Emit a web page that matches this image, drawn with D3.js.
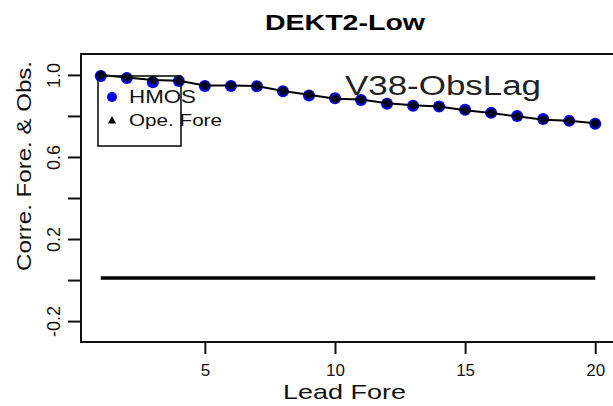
<!DOCTYPE html>
<html>
<head>
<meta charset="utf-8">
<script src="https://cdn.jsdelivr.net/npm/d3@7"></script>
<style>
  html, body { margin: 0; padding: 0; background: #fff; }
  svg { display: block; font-family: "Liberation Sans", Arial, sans-serif; }
</style>
</head>
<body>
<svg id="chart" width="613" height="406"></svg>
<script>
// Lead times (forecast hours index)
const leads = d3.range(1, 21);
// HMOS correlation by lead
const hmos = [0.995, 0.985, 0.964, 0.970, 0.946, 0.946, 0.945, 0.920, 0.900, 0.886,
              0.878, 0.860, 0.850, 0.846, 0.830, 0.815, 0.800, 0.785, 0.776, 0.762];
// Observation-lag correlation by lead
const obsLag = [1.000, 0.987, 0.975, 0.972, 0.948, 0.948, 0.946, 0.922, 0.903, 0.884,
                0.880, 0.862, 0.852, 0.846, 0.828, 0.814, 0.798, 0.782, 0.776, 0.764];
// Operational forecast correlation by lead
const opeFore = [0.01, 0.01, 0.01, 0.01, 0.01, 0.01, 0.01, 0.01, 0.01, 0.01,
                 0.01, 0.01, 0.01, 0.01, 0.01, 0.01, 0.01, 0.01, 0.01, 0.01];

const xTicks = [5, 10, 15, 20];
const yTicks = [-0.2, 0.0, 0.2, 0.4, 0.6, 0.8, 1.0];
const yTickLabels = ["-0.2", "", "0.2", "", "0.6", "", "1.0"];
const legendLabels = ["HMOS", "Ope. Fore"];

const svg = d3.select("#chart");
const plot = { left: 81, top: 54, right: 615, bottom: 342 };

const x = d3.scaleLinear().domain([0.24, 20.76]).range([plot.left, plot.right]);
const y = d3.scaleLinear().domain([-0.302, 1.102]).range([plot.bottom, plot.top]);

// Frame
svg.append("path")
  .attr("d", `M${plot.right},${plot.top}H${plot.left}V${plot.bottom}H${plot.right}`)
  .attr("fill", "none").attr("stroke", "#111").attr("stroke-width", 2);

// Y axis
const yAxis = svg.append("g")
  .attr("transform", `translate(${plot.left},0)`)
  .call(d3.axisLeft(y).tickValues(yTicks).tickSize(13)
        .tickFormat((d, i) => yTickLabels[i]));
yAxis.select(".domain").remove();
yAxis.selectAll(".tick line").attr("stroke", "#111").attr("stroke-width", 2);
yAxis.selectAll(".tick text")
  .attr("transform", "rotate(-90)")
  .attr("x", 0).attr("y", -21).attr("dy", 0)
  .attr("text-anchor", "middle")
  .attr("font-size", 18)
  .attr("font-family", "Liberation Sans, Arial, sans-serif")
  .attr("fill", "#111");

// X axis
const xAxis = svg.append("g")
  .attr("transform", `translate(0,${plot.bottom})`)
  .call(d3.axisBottom(x).tickValues(xTicks).tickSize(12).tickFormat(d3.format("d")));
xAxis.select(".domain").remove();
xAxis.selectAll(".tick line").attr("stroke", "#111").attr("stroke-width", 2);
xAxis.selectAll(".tick text")
  .attr("y", 34).attr("dy", 0)
  .attr("font-size", 17)
  .attr("font-family", "Liberation Sans, Arial, sans-serif")
  .attr("fill", "#111");

// Operational forecast line
svg.append("path")
  .datum(leads.map((l, i) => [l, opeFore[i]]))
  .attr("fill", "none").attr("stroke", "#000").attr("stroke-width", 3.5)
  .attr("d", d3.line().x(d => x(d[0])).y(d => y(d[1])));

// HMOS points
svg.append("g").selectAll("circle")
  .data(leads.map((l, i) => [l, hmos[i]]))
  .join("circle")
  .attr("cx", d => x(d[0])).attr("cy", d => y(d[1]))
  .attr("r", 6).attr("fill", "#0000ee");

// Observation-lag line and points
svg.append("path")
  .datum(leads.map((l, i) => [l, obsLag[i]]))
  .attr("fill", "none").attr("stroke", "#000").attr("stroke-width", 2)
  .attr("d", d3.line().x(d => x(d[0])).y(d => y(d[1])));
svg.append("g").selectAll("circle")
  .data(leads.map((l, i) => [l, obsLag[i]]))
  .join("circle")
  .attr("cx", d => x(d[0])).attr("cy", d => y(d[1]))
  .attr("r", 4.2).attr("fill", "#000018");

// Legend
const lg = svg.append("g");
lg.append("rect")
  .attr("x", 98).attr("y", 76).attr("width", 83).attr("height", 70)
  .attr("fill", "none").attr("stroke", "#111").attr("stroke-width", 1.6);
lg.append("circle").attr("cx", 112).attr("cy", 97).attr("r", 5).attr("fill", "#0000ee");
lg.append("path")
  .attr("d", d3.symbol(d3.symbolTriangle, 30)())
  .attr("transform", "translate(112,121)").attr("fill", "#000");
lg.append("text").attr("x", 129).attr("y", 103)
  .attr("font-size", 18).attr("textLength", 67).attr("lengthAdjust", "spacingAndGlyphs")
  .attr("fill", "#111").text(legendLabels[0]);
lg.append("text").attr("x", 129).attr("y", 126)
  .attr("font-size", 17).attr("textLength", 93).attr("lengthAdjust", "spacingAndGlyphs")
  .attr("fill", "#111").text(legendLabels[1]);

// Panel annotation
svg.append("text").attr("x", 345).attr("y", 95)
  .attr("font-size", 27).attr("textLength", 196).attr("lengthAdjust", "spacingAndGlyphs")
  .attr("fill", "#222").text("V38-ObsLag");

// Title
svg.append("text").attr("x", 265).attr("y", 30)
  .attr("font-size", 22).attr("font-weight", "bold")
  .attr("textLength", 160).attr("lengthAdjust", "spacingAndGlyphs")
  .attr("fill", "#000").text("DEKT2-Low");

// Axis titles
svg.append("text").attr("x", 283).attr("y", 399)
  .attr("font-size", 21).attr("textLength", 123).attr("lengthAdjust", "spacingAndGlyphs")
  .attr("fill", "#111").text("Lead Fore");
svg.append("text")
  .attr("transform", "translate(31,166) rotate(-90)")
  .attr("text-anchor", "middle")
  .attr("font-size", 21).attr("textLength", 210).attr("lengthAdjust", "spacingAndGlyphs")
  .attr("fill", "#111").text("Corre. Fore. & Obs.");
</script>
</body>
</html>
